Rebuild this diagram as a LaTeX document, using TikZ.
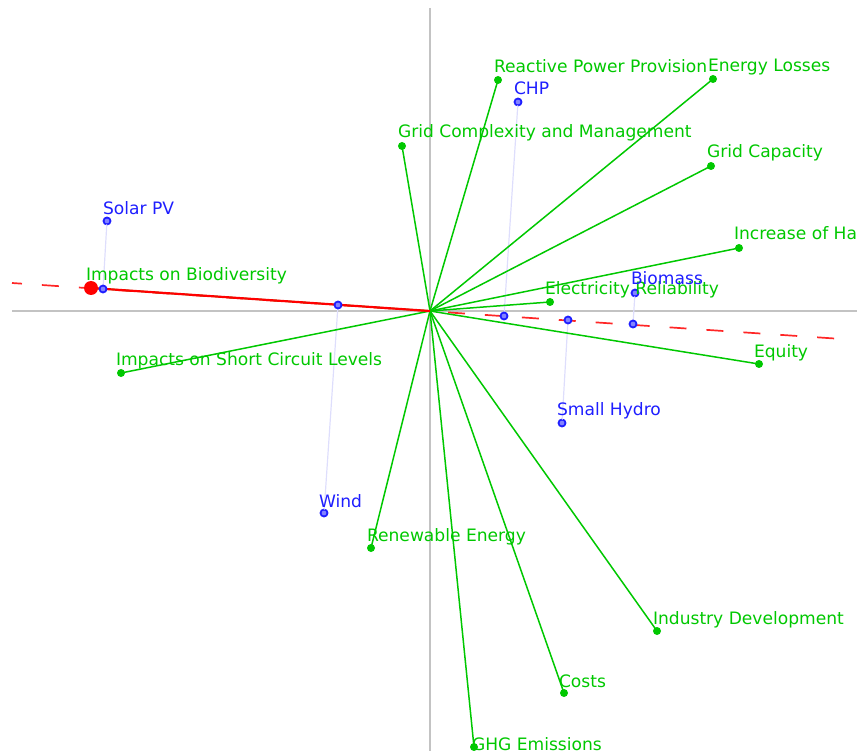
\documentclass[tikz,border=0pt]{standalone}
\usepackage{fontspec}
\setmainfont{DejaVu Sans}
\definecolor{critgreen}{RGB}{0,200,0}
\definecolor{altblue}{RGB}{30,30,255}
\definecolor{axisgray}{RGB}{195,195,195}
\definecolor{faintblue}{RGB}{222,222,252}
\definecolor{axisred}{RGB}{255,0,0}
\begin{document}
\begin{tikzpicture}[x=1pt,y=-1pt,
  every node/.style={inner sep=0pt,outer sep=0pt},
  crit/.style={circle,fill=critgreen,minimum size=8pt},
  alt/.style={circle,draw=altblue,line width=1.8pt,fill=altblue!55!white,minimum size=7pt},
  ray/.style={draw=critgreen,line width=1.5pt},
  drop/.style={draw=faintblue,line width=1.2pt},
  axisline/.style={draw=axisgray,line width=1.3pt},
  labfont/.style={font=\fontsize{17.1}{19}\selectfont},
  clab/.style={labfont,anchor=base west,text=critgreen},
  alab/.style={labfont,anchor=base west,text=altblue}]
\useasboundingbox (0,0) rectangle (857,751);
\clip (0,0) rectangle (857,751);

% axes
\coordinate (o) at (430,311);
\coordinate (vtop) at (430,8);
\coordinate (vbot) at (430,751);
\coordinate (hl) at (12,311);
\coordinate (hr) at (857,311);
\draw[axisline] (vtop) -- (vbot);
\draw[axisline] (hl) -- (hr);

% alternatives and their projections
\node[alt] (pv) at (107,221) {};
\node[alt] (chp) at (518,102) {};
\node[alt] (bio) at (635,293) {};
\node[alt] (hyd) at (562,423) {};
\node[alt] (wind) at (324,513) {};
\coordinate (pvp) at (103,289);
\coordinate (chpp) at (504,316);
\coordinate (biop) at (633,324);
\coordinate (hydp) at (568,320);
\coordinate (windp) at (338,305);
\draw[drop] (pv) -- (pvp);
\draw[drop] (chp) -- (chpp);
\draw[drop] (bio) -- (biop);
\draw[drop] (hyd) -- (hydp);
\draw[drop] (wind) -- (windp);

% decision axis
\coordinate (dl) at (12,283);
\coordinate (dr) at (842,339);
\draw[axisred!85!white,line width=1.7pt,dash pattern=on 17pt off 20pt,dash phase=7pt] (dl) -- (dr);

% criteria endpoints
\node[crit] (rpp) at (498,80) {};
\node[crit] (el) at (713,79) {};
\node[crit] (gcm) at (402,146) {};
\node[crit] (gc) at (711,166) {};
\node[crit] (ioh) at (739,248) {};
\node[crit] (er) at (550,302) {};
\node[crit] (eq) at (759,364) {};
\node[crit] (iscl) at (121,373) {};
\node[crit] (iob) at (91,288) {};
\node[crit] (re) at (371,548) {};
\node[crit] (idv) at (657,631) {};
\node[crit] (cost) at (564,693) {};
\node[crit] (ghg) at (474,747) {};

\foreach \c in {rpp,el,gcm,gc,ioh,er,eq,iscl,iob,re,idv,cost,ghg}
  \draw[ray] (o) -- (\c.center);

% highlighted criterion
\draw[axisred,line width=2.2pt] (o) -- (iob.center);
\node[circle,fill=axisred,minimum size=14pt] (iobdot) at (iob.center) {};

% projected alternatives on the decision axis
\foreach \p in {pvp,chpp,biop,hydp,windp}
  \node[alt] at (\p) {};

% criterion labels
\node[clab] (lrpp) at (494,73) {Reactive Power Provision};
\node[clab] (lel) at (708,72) {Energy Losses};
\node[clab] (lgcm) at (398,138) {Grid Complexity and Management};
\node[clab] (lgc) at (707,158) {Grid Capacity};
\node[clab] (lioh) at (734,240) {Increase of Ha};
\node[clab] (ler) at (545,295) {Electricity Reliability};
\node[clab] (leq) at (754,357) {Equity};
\node[clab] (liscl) at (116,366) {Impacts on Short Circuit Levels};
\node[clab] (liob) at (86,281) {Impacts on Biodiversity};
\node[clab] (lre) at (367,541) {Renewable Energy};
\node[clab] (lidv) at (653,624) {Industry Development};
\node[clab] (lcost) at (559,687) {Costs};
\node[clab] (lghg) at (472,750) {GHG Emissions};

% alternative labels
\node[alab] (lpv) at (103,215) {Solar PV};
\node[alab] (lchp) at (514,95) {CHP};
\node[alab] (lbio) at (631,285) {Biomass};
\node[alab] (lhyd) at (557,415) {Small Hydro};
\node[alab] (lwind) at (319,507) {Wind};
\end{tikzpicture}
\end{document}
